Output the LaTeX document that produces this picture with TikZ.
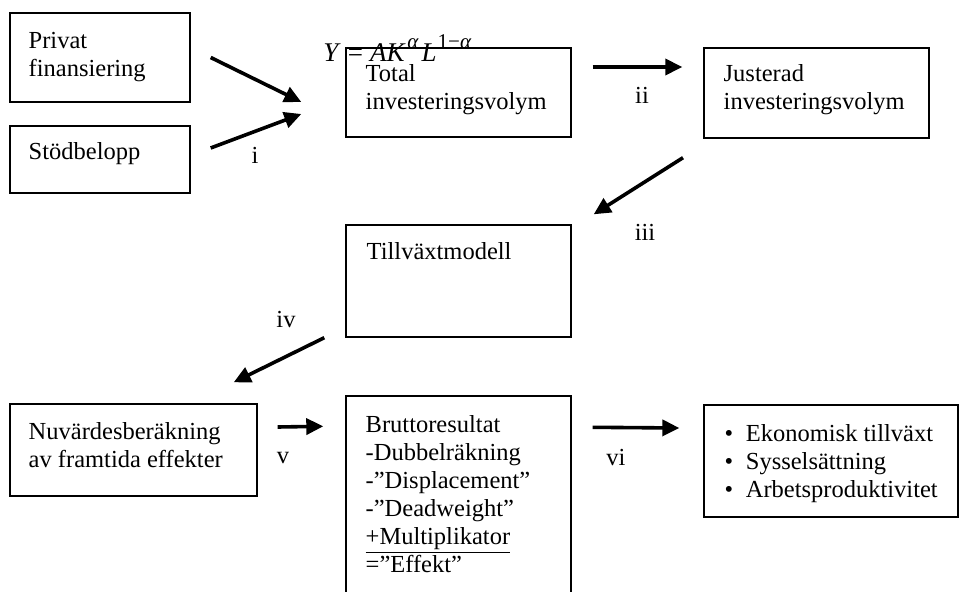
\documentclass[tikz,border=0pt]{standalone}
\usepackage{fontspec}
\setmainfont{Liberation Serif}
\usetikzlibrary{arrows.meta}
\tikzset{
  box/.style={draw=black, line width=0.7pt, inner sep=0pt},
  boxtext/.style={anchor=north west, inner sep=0pt, align=left, font=\fontsize{12.25}{14}\selectfont},
  lab/.style={inner sep=0pt, font=\fontsize{12.25}{14}\selectfont},
  flow/.style={line width=1.8pt, -{Triangle[length=8.5pt,width=8pt]}}
}
\newcommand{\supx}[1]{\raisebox{6.5pt}{\fontsize{10.5}{11}\selectfont #1}}
\begin{document}
\begin{tikzpicture}[x=0.5pt,y=-0.5pt]
\useasboundingbox (0,0) rectangle (961,592);
\clip (0,0) rectangle (961,592);

% boxes
\node[box,minimum width=90pt,minimum height=44.5pt] (priv) at (100,57.5) {};
\node[boxtext] at ([shift={(19,20)}]priv.north west) {Privat\\finansiering};
\node[box,minimum width=90pt,minimum height=33.5pt] (stod) at (100,159.5) {};
\node[boxtext] at ([shift={(19,17)}]stod.north west) {Stödbelopp};
\node[box,minimum width=112.5pt,minimum height=44.5pt] (tot) at (458.5,92.5) {};
\node[boxtext] at ([shift={(20,17)}]tot.north west) {Total\\investeringsvolym};
\node[box,minimum width=112.5pt,minimum height=45pt] (just) at (816.5,93) {};
\node[boxtext] at ([shift={(20,17)}]just.north west) {Justerad\\investeringsvolym};
\node[box,minimum width=112.5pt,minimum height=56pt] (till) at (458.5,281) {};
\node[boxtext] at ([shift={(21,18)}]till.north west) {Tillväxtmodell};
\node[box,minimum width=123.5pt,minimum height=46pt] (nuv) at (133.5,450) {};
\node[boxtext] at ([shift={(19,19)}]nuv.north west) {Nuvärdesberäkning\\av framtida effekter};
\node[box,minimum width=112.5pt,minimum height=107pt] (brut) at (458.5,503) {}; % runs off the page
\node[boxtext] at ([shift={(20,20)}]brut.north west) {Bruttoresultat\\-Dubbelräkning\\-”Displacement”\\-”Deadweight”\\\underline{+Multiplikator}\\=”Effekt”};
\node[box,minimum width=127pt,minimum height=56pt] (res) at (831,461) {};
\node[boxtext] at ([shift={(21,20)}]res.north west) {\textbullet\hspace{6.3pt}Ekonomisk tillväxt\\\textbullet\hspace{6.3pt}Sysselsättning\\\textbullet\hspace{6.3pt}Arbetsproduktivitet};

% formula
\node[lab,anchor=base west,font=\fontsize{13.5}{14}\selectfont] (formel) at (323,62)
  {\textit{Y}\hspace{3.5pt}=\hspace{3.5pt}\textit{AK}\hspace{0.8pt}\supx{\textit{α}}\hspace{1.5pt}\textit{L}\hspace{0.5pt}\supx{1−\textit{α}}};

% arrows
\draw[flow] ([shift={(20,0)}]priv.east) -- ([shift={(-44,9.5)}]tot.west);
\draw[flow] ([shift={(20,-11.5)}]stod.east) -- ([shift={(-44,21.5)}]tot.west);
\draw[flow] ([shift={(21,-25.5)}]tot.east) -- ([shift={(-21,-26)}]just.west);
\draw[flow] ([shift={(-133.5,19)}]just.south) -- ([shift={(22,-10)}]till.north east);
\draw[flow] ([shift={(-21,0)}]till.south west) -- ([shift={(-24,-21)}]nuv.north east);
\draw[flow] ([shift={(20,-23)}]nuv.east) -- ([shift={(-22,31)}]brut.north west);
\draw[flow] ([shift={(21,32)}]brut.north east) -- ([shift={(-24,-33)}]res.west);

% labels
\node[lab] (li) at (255,155.5) {i};
\node[lab] (lii) at (642,95) {ii};
\node[lab] (liii) at (645,232) {iii};
\node[lab] (liv) at (286,320) {iv};
\node[lab] (lv) at (283,458) {v};
\node[lab] (lvi) at (616,458) {vi};

\end{tikzpicture}
\end{document}
